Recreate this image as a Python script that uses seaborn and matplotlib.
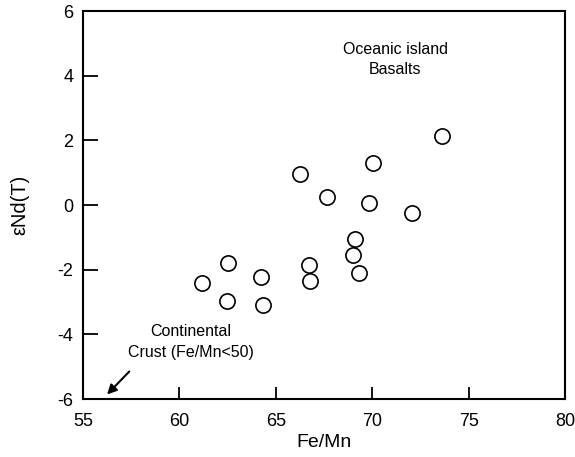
import matplotlib
matplotlib.use("Agg")
import matplotlib.pyplot as plt
import seaborn as sns
import pandas as pd

fe_mn = [73.6, 70.06, 66.25, 67.67, 69.85, 72.05, 69.11, 69.02, 62.54, 66.74,
         64.22, 69.30, 61.19, 66.77, 62.45, 64.35]
eps_nd = [2.14, 1.29, 0.95, 0.26, 0.05, -0.26, -1.06, -1.55, -1.80, -1.86,
          -2.24, -2.09, -2.40, -2.35, -2.96, -3.09]
x_ticks = [55, 60, 65, 70, 75, 80]
y_ticks = [-6, -4, -2, 0, 2, 4, 6]

sns.set_style("white")
plt.rcParams['font.family'] = ['Liberation Sans', 'DejaVu Sans']
plt.rcParams['text.color'] = 'black'
plt.rcParams['axes.labelcolor'] = 'black'
plt.rcParams['xtick.color'] = 'black'
plt.rcParams['ytick.color'] = 'black'

df = pd.DataFrame({"Fe/Mn": fe_mn, "eNd": eps_nd})

fig = plt.figure(figsize=(5.75, 4.57), dpi=100)
ax = fig.add_axes([0.1443, 0.1269, 0.8383, 0.849])
sns.scatterplot(data=df, x="Fe/Mn", y="eNd", ax=ax, s=120, marker="o",
                facecolor="white", edgecolor="black", linewidth=1.2, legend=False)

ax.set_xlim(55, 80)
ax.set_ylim(-6, 6)
ax.set_xticks(x_ticks)
ax.set_yticks(y_ticks)
ax.set_xticklabels([str(v) for v in x_ticks], fontsize=13)
ax.set_yticklabels([str(v) for v in y_ticks], fontsize=13)
ax.tick_params(axis="x", direction="in", length=9, width=1.3, color="black",
               bottom=True, top=False, pad=10)
ax.tick_params(axis="y", direction="in", length=11, width=1.3, color="black",
               left=True, right=False, pad=7)
for sp in ax.spines.values():
    sp.set_color("black")
    sp.set_linewidth(1.5)
ax.set_xlabel("Fe/Mn", fontsize=14, labelpad=3)
ax.set_ylabel("εNd(T)", fontsize=14.5, labelpad=20)

ax.text(71.2, 4.5, "Oceanic island\nBasalts", ha="center", va="center",
        fontsize=11.5, linespacing=1.45)
ax.text(60.6, -4.24, "Continental\nCrust (Fe/Mn<50)", ha="center", va="center",
        fontsize=11.5, linespacing=1.45)
ax.annotate("", xy=(56.25, -5.86), xytext=(57.4, -5.15),
            arrowprops=dict(arrowstyle="-|>", color="black", lw=1.5,
                            mutation_scale=14, shrinkA=0, shrinkB=0))

fig.savefig("out.png", dpi=100)
